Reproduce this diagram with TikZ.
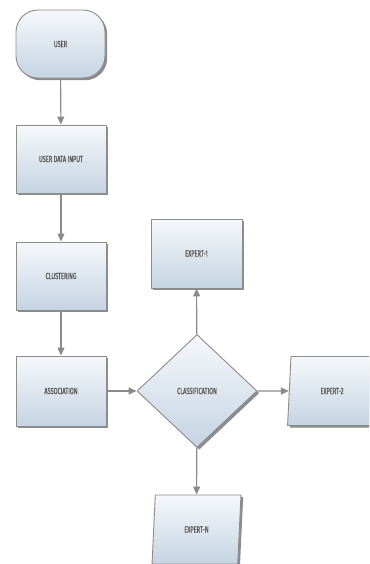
\documentclass[tikz,border=0pt]{standalone}
\usepackage{fontspec}
\newfontfamily\lblfont{Fira Sans}[FakeStretch=0.64, FakeBold=0.8]
\usetikzlibrary{shapes.geometric,shadows,arrows.meta}
\definecolor{boxtop}{HTML}{F6F8FB}
\definecolor{boxbot}{HTML}{C5D4E2}
\definecolor{boxline}{HTML}{8C8C8C}
\definecolor{txt}{HTML}{555555}
\definecolor{arr}{HTML}{8A8A8A}
\tikzset{
  flow/.style={draw=boxline, line width=0.9pt, top color=boxtop, bottom color=boxbot,
    drop shadow={shadow xshift=2.2pt, shadow yshift=-2.2pt, fill=black, opacity=0.45},
    font=\lblfont\fontsize{8.8}{10}\selectfont, text=txt, inner sep=0pt, align=center},
  procbox/.style={flow, rectangle, minimum width=90pt, minimum height=68pt},
  termbox/.style={flow, rectangle, rounded corners=22pt, minimum width=89pt, minimum height=68pt},
  decbox/.style={flow, diamond, minimum width=120pt, minimum height=113pt},
  iobox/.style={flow, trapezium, trapezium left angle=81, trapezium right angle=99,
    trapezium stretches=true, minimum width=89pt, minimum height=69pt},
  conn/.style={draw=arr, line width=1.1pt, -{Triangle[length=8pt,width=7pt]}}
}
\begin{document}
\begin{tikzpicture}[x=1pt,y=-1pt]
\useasboundingbox (0,0) rectangle (369,564);
\clip (0,0) rectangle (369,564);
\node[termbox] (user) at (60.5,44) {USER};
\node[procbox] (udi) at (61,159) {USER DATA INPUT};
\node[procbox] (clu) at (61,276) {CLUSTERING};
\node[procbox, minimum height=70pt] (ass) at (61,391) {ASSOCIATION};
\node[decbox] (cls) at (197,391) {CLASSIFICATION};
\node[procbox, minimum width=91pt, minimum height=69pt] (e1) at (196.5,253.5) {EXPERT-1};
\node[iobox] (e2) at (332,391) {EXPERT-2};
\node[iobox] (en) at (196.5,529.5) {EXPERT-N};
\draw[conn] (user) -- (udi);
\draw[conn] (udi) -- (clu);
\draw[conn] (clu) -- (ass);
\draw[conn] (ass) -- (cls);
\draw[conn] (cls) -- (e1);
\draw[conn] (cls) -- (e2);
\draw[conn] (cls) -- (en);
\end{tikzpicture}
\end{document}
